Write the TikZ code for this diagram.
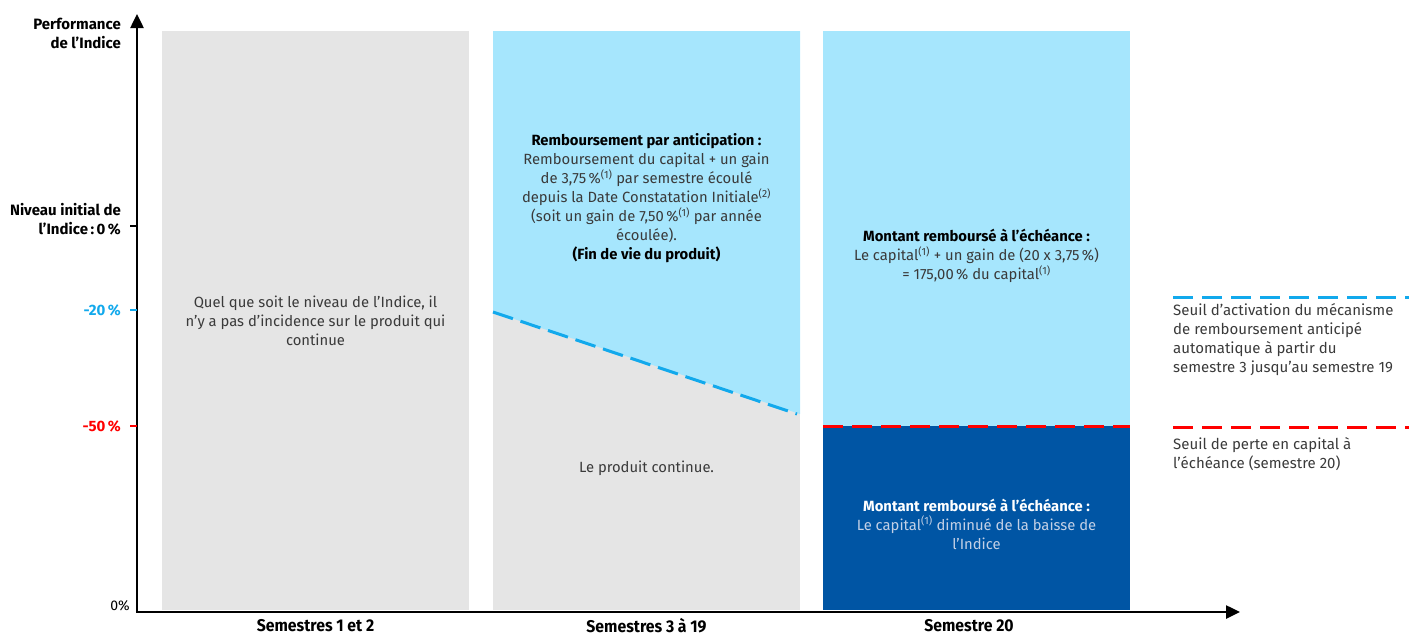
\documentclass[tikz,border=0pt]{standalone}
\usepackage{fontspec}
\setmainfont{Fira Sans}
\newfontfamily\condfont[FakeStretch=0.93]{Fira Sans}
\usetikzlibrary{arrows.meta}
\definecolor{zonegray}{HTML}{E5E5E5}
\definecolor{lightblue}{HTML}{A6E6FD}
\definecolor{darkblue}{HTML}{0055A4}
\definecolor{dashblue}{HTML}{12A9EC}
\definecolor{lossred}{HTML}{FF0000}
\definecolor{bodygray}{HTML}{3A3A3A}
\definecolor{paleblue}{HTML}{C3D0E6}
\begin{document}
\begin{tikzpicture}[x=1pt,y=-1pt,
  txt/.style={font=\fontsize{14.8}{19}\selectfont, text=bodygray, align=center, inner sep=0pt},
  lbl/.style={font=\fontsize{15}{18.5}\selectfont\bfseries, text=black, align=right, inner sep=0pt, anchor=east},
  botlbl/.style={font=\condfont\fontsize{17}{18}\selectfont\bfseries, text=black, inner sep=0pt},
  legtxt/.style={font=\fontsize{15}{19}\selectfont, text=bodygray, align=left, inner sep=0pt, anchor=west},
  axis/.style={line width=2.5pt, -{Triangle[length=14pt,width=13pt]}},
  tick/.style={line width=2.5pt},
  bluedash/.style={dashblue, line width=3pt, dash pattern=on 20pt off 9pt},
  reddash/.style={lossred, line width=3pt, dash pattern=on 20pt off 9pt},
  slopedash/.style={dashblue, line width=3pt, dash pattern=on 21pt off 8pt}
]
\useasboundingbox (0,0) rectangle (1409,635);

% zones
\fill[zonegray] (162,31) rectangle (469,610);
\fill[zonegray] (493,31) rectangle (800,610);
\fill[lightblue] (493,31) -- (800,31) -- (800,414) -- (493,312) -- cycle;
\fill[lightblue] (823,31) rectangle (1130,426);
\fill[darkblue] (823,426) rectangle (1130,610);

% threshold lines
\coordinate (s2a) at (493,312);
\coordinate (s2b) at (797,414);
\draw[slopedash] (s2a) -- (s2b);
\coordinate (r3a) at (823,426);
\coordinate (r3b) at (1130,426);
\draw[reddash] (r3a) -- (r3b);
\coordinate (lba) at (1173,297);
\coordinate (lbb) at (1409,297);
\draw[bluedash] (lba) -- (lbb);
\coordinate (lra) at (1173,427);
\coordinate (lrb) at (1409,427);
\draw[reddash] (lra) -- (lrb);

% axes
\coordinate (o) at (137,612);
\coordinate (ytip) at (137,14);
\coordinate (xtip) at (1240,612);
\draw[axis] ([xshift=-1.25pt]o) -- (xtip);
\draw[axis] (o) -- (ytip);
\coordinate (t0a) at (130,226); \coordinate (t0b) at (137,226);
\coordinate (t20a) at (130,310); \coordinate (t20b) at (137,310);
\coordinate (t50a) at (130,426); \coordinate (t50b) at (137,426);
\draw[tick, black] (t0a) -- (t0b);
\draw[tick, dashblue] (t20a) -- (t20b);
\draw[tick, lossred] (t50a) -- (t50b);

% axis labels
\node[lbl] (perf) at (121,33.5) {Performance\\de l'Indice};
\node[lbl] (niv) at (121,219) {Niveau initial de\\l'Indice\,:\,0\,\%};
\node[lbl, text=dashblue] (m20) at (121,310) {-20\,\%};
\node[lbl, text=lossred] (m50) at (121,426) {-50\,\%};
\node[lbl, font=\fontsize{14}{15}\selectfont] (zero) at (130,606) {0\%};

% zone texts
\node[txt] (z1) at (315.5,321) {Quel que soit le niveau de l'Indice, il\\n'y a pas d'incidence sur le produit qui\\continue};
\node[txt] (z2) at (646.5,198.5) {\textcolor{black}{\bfseries Remboursement\ par anticipation :}\\
Remboursement du capital + un gain\\
de 3,75\,\%\textsuperscript{(1)} par semestre écoulé\\
depuis la Date Constatation Initiale\textsuperscript{(2)}\\
(soit un gain de 7,50\,\%\textsuperscript{(1)} par année\\
écoulée).\\
\textcolor{black}{\bfseries (Fin de vie du produit)}};
\node[txt] (z2b) at (646.5,468) {Le produit continue.};
\node[txt] (z3a) at (976.5,256) {\textcolor{black}{\bfseries Montant remboursé à l'échéance :}\\
Le capital\textsuperscript{(1)} + un gain de (20 x 3,75\,\%)\\
= 175,00\,\% du capital\textsuperscript{(1)}};
\node[txt, text=paleblue] (z3b) at (976.5,524) {\textcolor{white}{\bfseries Montant remboursé à l'échéance :}\\
Le capital\textsuperscript{(1)} diminué de la baisse de\\
l'Indice};

% legend
\node[legtxt] (leg1) at (1173,340) {Seuil d'activation du mécanisme\\de remboursement anticipé\\automatique à partir du\\semestre 3 jusqu'au semestre 19};
\node[legtxt] (leg2) at (1173,454.5) {Seuil de perte en capital à\\l'échéance (semestre 20)};

% bottom labels
\node[botlbl] (b1) at (315.5,626) {Semestres 1 et 2};
\node[botlbl] (b2) at (646.5,626) {Semestres 3 à 19};
\node[botlbl] (b3) at (969,626) {Semestre 20};
\end{tikzpicture}
\end{document}
